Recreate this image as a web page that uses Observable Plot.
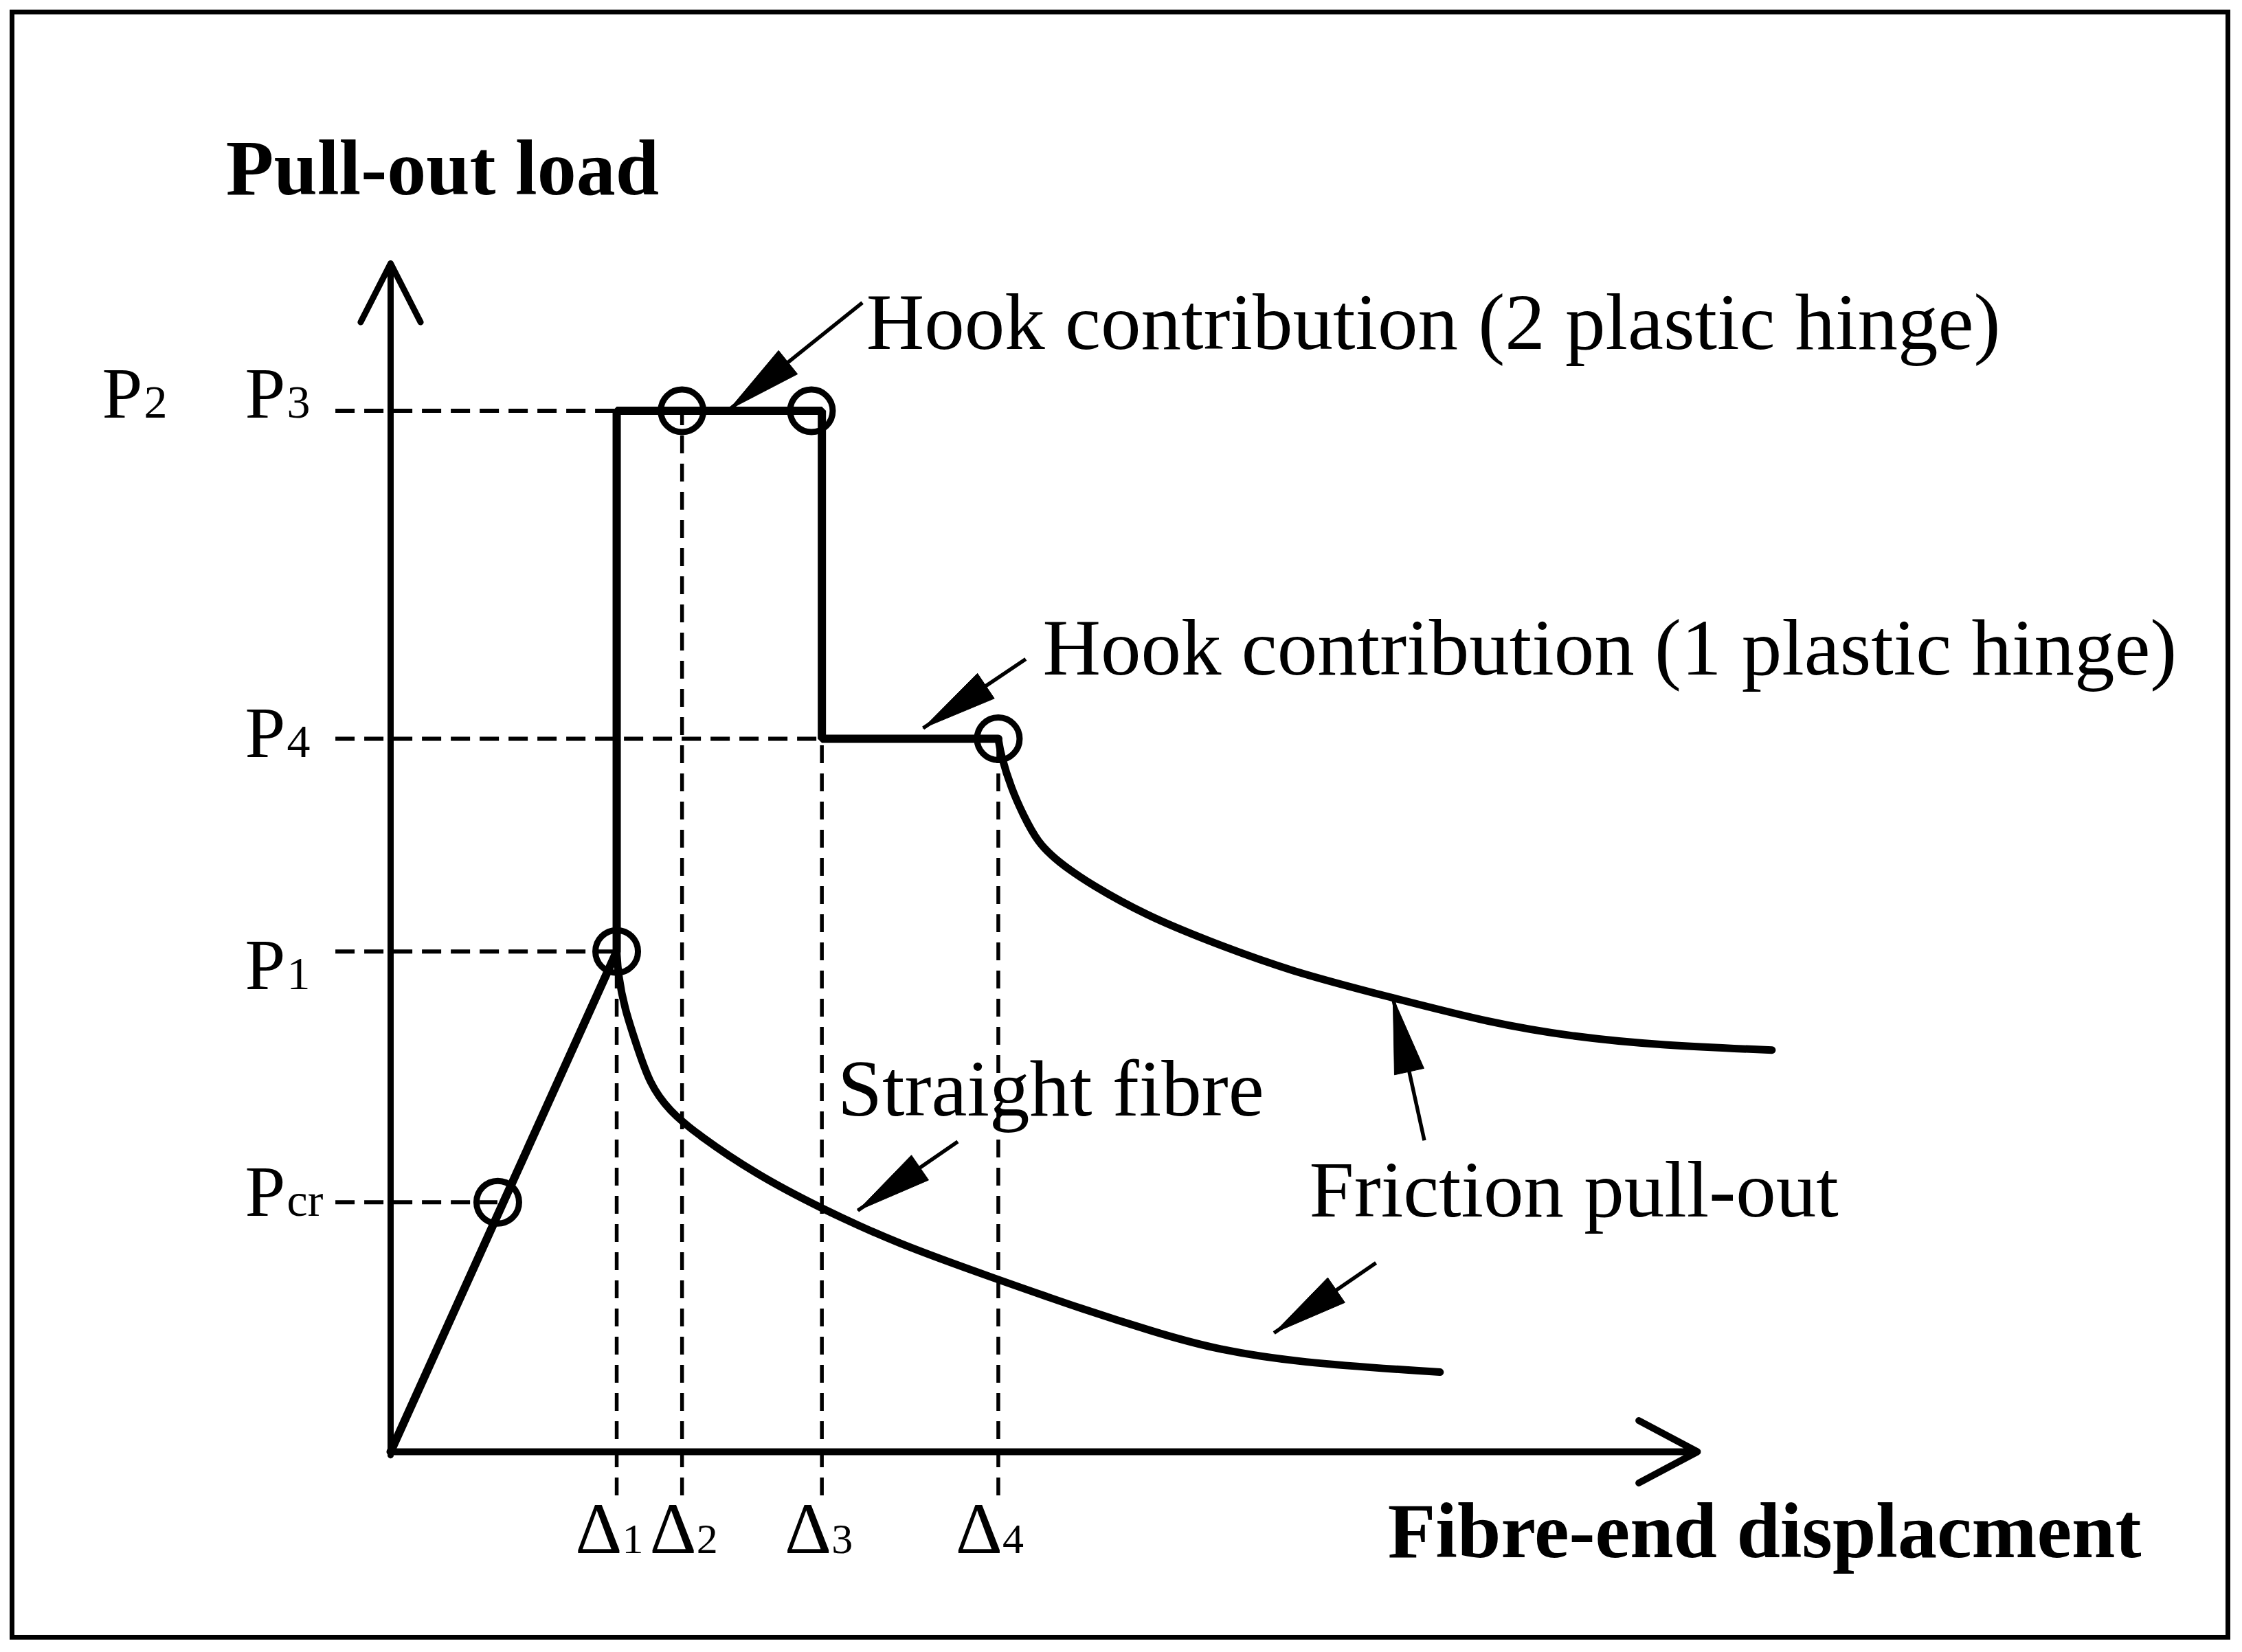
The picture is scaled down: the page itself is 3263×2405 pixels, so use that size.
<!DOCTYPE html>
<html>
<head>
<meta charset="utf-8">
<script src="https://cdn.jsdelivr.net/npm/d3@7"></script>
<script src="https://cdn.jsdelivr.net/npm/@observablehq/plot@0.6"></script>
<style>
  html, body { margin: 0; padding: 0; background: #ffffff; }
  #chart svg { display: block; background: #ffffff; }
</style>
</head>
<body>
<div id="chart"></div>
<script>
// ---------------- data read off the schematic (arbitrary units) ----------------
// characteristic displacements Δ1..Δ4
const dispSubs   = ["1", "2", "3", "4"];
const dispValues = [17.3, 22.3, 33.0, 46.5];
// characteristic loads Pcr, P1, P4, P3 (P2 sits on the P3 level)
const loadSubs   = ["cr", "1", "4", "3"];
const loadValues = [21.0, 42.1, 60.0, 87.6];
const aliasSub   = "2";
// first cracking point on the elastic branch
const crackX = 8.2;
// friction pull-out branch of the hooked fibre (after Δ4)
const hookedFrictionX = [46.5, 46.7, 47.5, 48.4, 49.5, 51.0, 53.6, 57.9, 62.3, 68.9, 76.7, 84.1, 90.6, 97.2, 105.7];
const hookedFrictionY = [60.0, 58.6, 55.8, 53.6, 51.3, 49.7, 47.7, 45.1, 43.1, 40.4, 38.2, 36.1, 34.9, 34.2, 33.8];
// friction pull-out branch of the straight fibre (after Δ1)
const straightX = [17.3, 17.4, 17.9, 18.8, 19.8, 21.3, 23.6, 27.9, 32.7, 38.8, 46.2, 53.2, 58.4, 62.8, 69.3, 80.3];
const straightY = [42.1, 40.2, 37.3, 34.3, 31.0, 28.7, 26.6, 23.4, 20.6, 17.5, 14.6, 11.9, 10.1, 8.7, 7.5, 6.7];
// second plastic-hinge circle on the P3 plateau
const hinge2X = 32.2;
// annotation texts
const annotationTexts = [
  "Hook contribution (2 plastic hinge)",
  "Hook contribution (1 plastic hinge)",
  "Straight fibre",
  "Friction pull-out"
];
const yTitle = "Pull-out load";
const xTitle = "Fibre-end displacment";

// ---------------- layout ----------------
const W = 3263, H = 2405;
const xDomain = [0, 100], xRange = [568, 2470];
const yDomain = [0, 100], yRange = [2113, 383];
const sx = d3.scaleLinear(xDomain, xRange);
const sy = d3.scaleLinear(yDomain, yRange);

const [D1, D2, D3, D4] = dispValues;
const [PCR, P1, P4, P3] = loadValues;

// annotation anchors (text baseline start) and callout arrows (tail -> tip)
const annotationAnchors = [[36.4, 92.8], [49.9, 65.4], [34.2, 28.3], [70.3, 19.8]];
const callouts = [
  {x1: 36.1, y1: 96.7, x2: 25.9, y2: 87.7},
  {x1: 48.6, y1: 66.7, x2: 40.75, y2: 60.9},
  {x1: 43.4, y1: 26.1, x2: 35.75, y2: 20.3},
  {x1: 79.1, y1: 26.2, x2: 76.7, y2: 38.2},
  {x1: 75.4, y1: 15.9, x2: 67.6, y2: 10.0}
];

const serif = "'Liberation Serif', 'Times New Roman', serif";
const black = "#000000";

// main load path of the hooked fibre
const mainPath = [
  {x: 0, y: 0}, {x: D1, y: P1}, {x: D1, y: P3},
  {x: D3, y: P3}, {x: D3, y: P4}, {x: D4, y: P4}
];
const hookedFriction = hookedFrictionX.map((x, i) => ({x, y: hookedFrictionY[i]}));
const straightFriction = straightX.map((x, i) => ({x, y: straightY[i]}));

const hinges = [
  {x: crackX, y: PCR}, {x: D1, y: P1}, {x: D2, y: P3},
  {x: hinge2X, y: P3}, {x: D4, y: P4}
];

// horizontal guides from the left of the axis to the curve
const guideEnds = [crackX, D1, D3, D1];
const hGuides = loadValues.map((v, i) => ({y: v, x1: -4.2, x2: guideEnds[i]}));
// vertical guides from the curve to below the axis
const guideTops = [P1, P3, P4, P4];
const vGuides = dispValues.map((v, i) => ({x: v, y1: -3.7, y2: guideTops[i]}));

// triangular callout heads, computed in pixel space
const heads = callouts.flatMap((c, i) => {
  const tx = sx(c.x2), ty = sy(c.y2), ax = sx(c.x1), ay = sy(c.y1);
  const len = Math.hypot(ax - tx, ay - ty);
  const ux = (ax - tx) / len, uy = (ay - ty) / len;
  const L = 110, Wd = 22;
  const bx = tx + ux * L, by = ty + uy * L;
  const pts = [[tx, ty], [bx - uy * Wd, by + ux * Wd], [bx + uy * Wd, by - ux * Wd], [tx, ty]];
  return pts.map(([px, py]) => ({id: i, x: sx.invert(px), y: sy.invert(py)}));
});

// label placement (pixel nudges of the label baselines below each guide)
const loadBaselineNudge = [20, 55, 26, 10];
const loadLabels = loadSubs.map((s, i) => ({sub: s, y: sy.invert(sy(loadValues[i]) + loadBaselineNudge[i])}));
const aliasLabel = [{sub: aliasSub, y: sy.invert(sy(P3) + loadBaselineNudge[3])}];
const dispLabelNudge = [-8, 5, -2, -10];
const dispLabels = dispSubs.map((s, i) => ({sub: s, x: sx.invert(sx(dispValues[i]) + dispLabelNudge[i])}));
const annotations = annotationTexts.map((t, i) => ({text: t, x: annotationAnchors[i][0], y: annotationAnchors[i][1]}));

const chart = Plot.plot({
  width: W,
  height: H,
  marginLeft: 17, marginTop: 17, marginRight: 21, marginBottom: 22,
  x: {domain: xDomain, range: xRange, axis: null},
  y: {domain: yDomain, range: yRange, axis: null},
  style: {background: "#ffffff", color: black},
  marks: [
    Plot.frame({stroke: black, strokeWidth: 7}),
    // dashed guides
    Plot.ruleY(hGuides, {y: "y", x1: "x1", x2: "x2", stroke: black, strokeWidth: 6, strokeDasharray: "28,14"}),
    Plot.ruleX(vGuides, {x: "x", y1: "y1", y2: "y2", stroke: black, strokeWidth: 5.5, strokeDasharray: "26,15"}),
    // axes with open arrowheads
    Plot.arrow([{x1: 0, y1: -0.3, x2: 0, y2: 100}], {x1: "x1", y1: "y1", x2: "x2", y2: "y2", stroke: black, strokeWidth: 9, headLength: 16, headAngle: 54}),
    Plot.arrow([{x1: 0, y1: 0, x2: 100, y2: 0}], {x1: "x1", y1: "y1", x2: "x2", y2: "y2", stroke: black, strokeWidth: 10, headLength: 14.5, headAngle: 56}),
    // curves
    Plot.line(mainPath, {x: "x", y: "y", stroke: black, strokeWidth: 12, strokeLinejoin: "miter"}),
    Plot.line(hookedFriction, {x: "x", y: "y", stroke: black, strokeWidth: 11, curve: "basis"}),
    Plot.line(straightFriction, {x: "x", y: "y", stroke: black, strokeWidth: 11, curve: "basis"}),
    // plastic hinges / characteristic points
    Plot.dot(hinges, {x: "x", y: "y", r: 31, stroke: black, strokeWidth: 9, fill: "none"}),
    // callouts
    Plot.link(callouts, {x1: "x1", y1: "y1", x2: "x2", y2: "y2", stroke: black, strokeWidth: 5.5}),
    Plot.line(heads, {x: "x", y: "y", z: "id", fill: black, stroke: black, strokeWidth: 1, strokeLinejoin: "miter"}),
    // annotation texts
    Plot.text(annotations, {x: "x", y: "y", text: "text", textAnchor: "start", lineAnchor: "bottom", fontFamily: serif, fontSize: 117, fill: black}),
    // axis titles
    Plot.text([yTitle], {x: -12.6, y: 105.8, text: d => d, textAnchor: "start", lineAnchor: "bottom", fontFamily: serif, fontSize: 114, fontWeight: "bold", fill: black}),
    Plot.text([xTitle], {x: 76.3, y: -8.9, text: d => d, textAnchor: "start", lineAnchor: "bottom", fontFamily: serif, fontSize: 114, fontWeight: "bold", fill: black}),
    // load labels: P with subscript
    Plot.text(loadLabels, {x: 0, y: "y", text: () => "P", dx: -153, textAnchor: "end", lineAnchor: "bottom", fontFamily: serif, fontSize: 106, fill: black}),
    Plot.text(loadLabels, {x: 0, y: "y", text: "sub", dx: -151, textAnchor: "start", lineAnchor: "bottom", fontFamily: serif, fontSize: 68, fill: black}),
    Plot.text(aliasLabel, {x: 0, y: "y", text: () => "P", dx: -361, textAnchor: "end", lineAnchor: "bottom", fontFamily: serif, fontSize: 106, fill: black}),
    Plot.text(aliasLabel, {x: 0, y: "y", text: "sub", dx: -359, textAnchor: "start", lineAnchor: "bottom", fontFamily: serif, fontSize: 68, fill: black}),
    // displacement labels: Δ with subscript
    Plot.text(dispLabels, {x: "x", y: 0, text: () => "Δ", dx: 16, dy: 147, textAnchor: "end", lineAnchor: "bottom", fontFamily: serif, fontSize: 106, fill: black}),
    Plot.text(dispLabels, {x: "x", y: 0, text: "sub", dx: 16, dy: 147, textAnchor: "start", lineAnchor: "bottom", fontFamily: serif, fontSize: 62, fill: black})
  ]
});

document.getElementById("chart").appendChild(chart);
</script>
</body>
</html>
